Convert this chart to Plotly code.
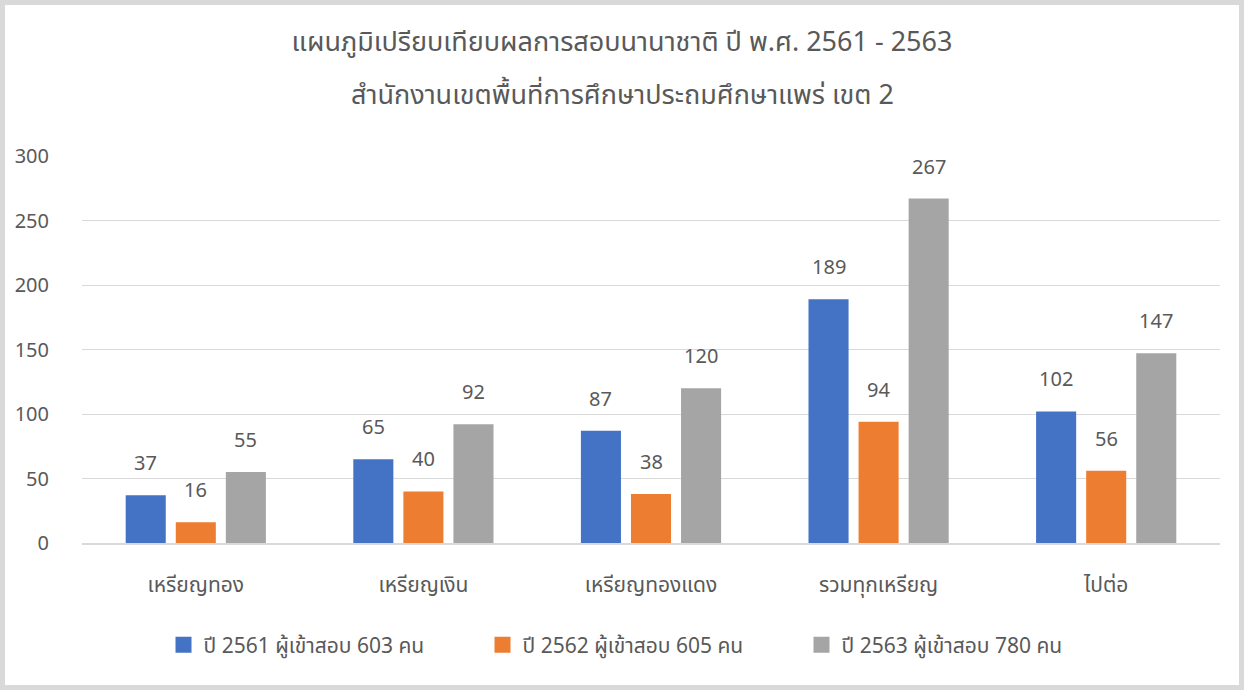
import plotly.graph_objects as go

# chart data
categories = ["เหรียญทอง", "เหรียญเงิน", "เหรียญทองแดง", "รวมทุกเหรียญ", "ไปต่อ"]
series_names = [
    "ปี 2561 ผู้เข้าสอบ 603 คน",
    "ปี 2562 ผู้เข้าสอบ 605 คน",
    "ปี 2563 ผู้เข้าสอบ 780 คน",
]
values_2561 = [37, 65, 87, 189, 102]
values_2562 = [16, 40, 38, 94, 56]
values_2563 = [55, 92, 120, 267, 147]
y_ticks = [0, 50, 100, 150, 200, 250, 300]

title_line1 = "แผนภูมิเปรียบเทียบผลการสอบนานาชาติ ปี พ.ศ. 2561 - 2563"
title_line2 = "สำนักงานเขตพื้นที่การศึกษาประถมศึกษาแพร่ เขต 2"

colors = ["#4472C4", "#ED7D31", "#A5A5A5"]
text_color = "#595959"
font_family = "Noto Sans Thai, Tahoma, DejaVu Sans, sans-serif"

W, H = 1244, 690
margin = dict(l=82, r=24, t=156, b=147)
plot_w = W - margin["l"] - margin["r"]
plot_h = H - margin["t"] - margin["b"]


def py_to_paper(py):
    # pixel row from top of picture -> paper y
    return (margin["t"] + plot_h - py) / plot_h


def px_to_paper(px):
    return (px - margin["l"]) / plot_w


fig = go.Figure()
all_values = [values_2561, values_2562, values_2563]
for name, vals, col in zip(series_names, all_values, colors):
    fig.add_trace(go.Bar(
        x=categories, y=vals, name=name, showlegend=False,
        marker=dict(color=col, line=dict(width=0)),
    ))
    # legend entry with a bigger square swatch
    fig.add_trace(go.Scatter(
        x=[None], y=[None], mode="markers", name=name,
        marker=dict(symbol="square", size=16, color=col),
    ))

# value labels sit well above each bar
slot = plot_w / len(categories) * (1 - 0.34) / 3
for i, vals in enumerate(all_values):
    for cat, v in zip(categories, vals):
        fig.add_annotation(
            x=cat, y=v, xref="x", yref="y",
            text=str(v), showarrow=False,
            xshift=(i - 1) * slot, yshift=14, yanchor="bottom",
            font=dict(size=20, color=text_color, family=font_family),
        )

# second title line, centred on the page like the first
fig.add_annotation(
    x=px_to_paper(W / 2), y=py_to_paper(95), xref="paper", yref="paper",
    xanchor="center", yanchor="middle", showarrow=False,
    text=title_line2,
    font=dict(size=27, color=text_color, family=font_family),
)

# light grey frame round the whole picture
fig.add_shape(
    type="rect", xref="paper", yref="paper",
    x0=px_to_paper(2.5), x1=px_to_paper(W - 2.5),
    y0=py_to_paper(H - 2.5), y1=py_to_paper(2.5),
    line=dict(color="#D9D9D9", width=5), layer="above",
)

fig.update_layout(
    width=W, height=H,
    margin=margin,
    paper_bgcolor="white", plot_bgcolor="white",
    font=dict(family=font_family, color=text_color, size=20),
    title=dict(
        text=title_line1,
        x=0.5, xanchor="center", y=1 - 42 / H, yanchor="middle",
        font=dict(size=27, color=text_color, family=font_family),
    ),
    barmode="group", bargap=0.34, bargroupgap=0.2,
    showlegend=True,
    legend=dict(
        orientation="h", x=0.5 - 9 / plot_w, xanchor="center",
        y=py_to_paper(645), yanchor="middle",
        font=dict(size=21, color=text_color),
        entrywidth=274, entrywidthmode="pixels",
        itemsizing="trace",
    ),
)
fig.update_yaxes(
    range=[0, 300], tickvals=y_ticks,
    showgrid=True, gridcolor="#D9D9D9", gridwidth=1,
    zeroline=False, showline=False,
    ticklabelstandoff=32,
    tickfont=dict(size=20, color=text_color),
)
fig.update_xaxes(
    showline=True, linecolor="#D9D9D9", linewidth=2,
    ticks="", ticklabelstandoff=22,
    tickfont=dict(size=21, color=text_color),
)

fig.write_html(
    "out.html",
    config={"displayModeBar": False},
    post_script="document.body.style.margin='0';",
)
